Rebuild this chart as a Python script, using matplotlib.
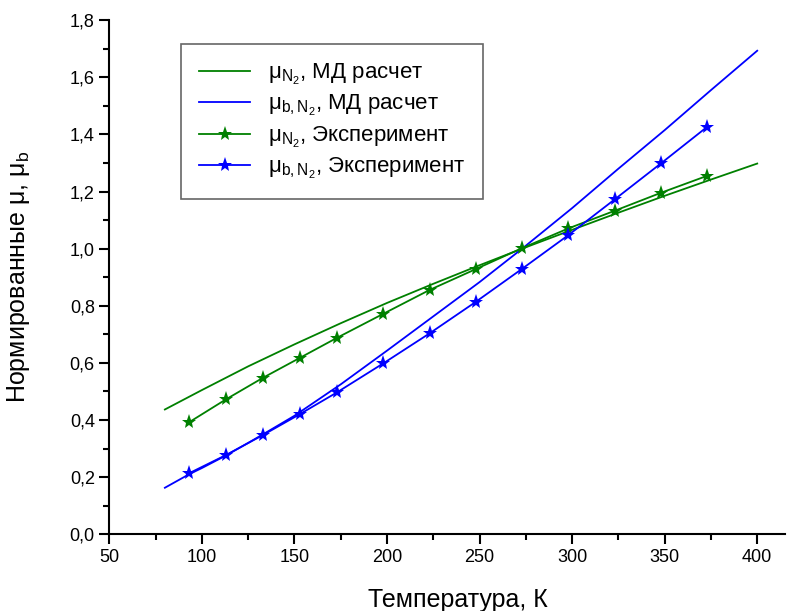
import matplotlib
matplotlib.use("Agg")
import matplotlib.pyplot as plt
from matplotlib.ticker import MultipleLocator, FuncFormatter

plt.rcParams["font.family"] = ["Liberation Sans", "DejaVu Sans"]
plt.rcParams["mathtext.fontset"] = "custom"
plt.rcParams["mathtext.rm"] = "Liberation Sans"
plt.rcParams["mathtext.it"] = "Liberation Sans:italic"

# MD calculation
T_md = [80, 100, 125, 150, 175, 200, 225, 250, 273, 300, 325, 350, 375, 400]
mu_md = [0.437, 0.505, 0.588, 0.665, 0.739, 0.810, 0.877, 0.942, 1.0,
         1.066, 1.126, 1.185, 1.242, 1.298]
T_md_b = [80, 93, 100, 113, 125, 133, 150, 175, 200, 225, 250, 273, 300,
          325, 350, 375, 400]
mub_md = [0.163, 0.21, 0.232, 0.276, 0.32, 0.35, 0.415, 0.525, 0.643, 0.763,
          0.883, 1.0, 1.142, 1.28, 1.415, 1.555, 1.693]

# experiment
T_exp = [93, 113, 133, 153, 173, 198, 223, 248, 273, 298, 323, 348, 373]
mu_exp = [0.392, 0.4725, 0.548, 0.618, 0.688, 0.772, 0.8555, 0.9286, 1.002,
          1.071, 1.1327, 1.1957, 1.2552]
mub_exp = [0.2135, 0.2775, 0.3476, 0.421, 0.497, 0.5985, 0.7035, 0.814,
           0.9296, 1.0476, 1.1725, 1.2986, 1.4267]

green = "#008000"
blue = "#0000ff"

fig = plt.figure(figsize=(8.01, 6.11), dpi=100)
ax = fig.add_axes([0.1365, 0.1255, 0.8435, 0.8415])

ax.plot(T_md, mu_md, color=green, lw=1.3,
        label=r"$\mathregular{\mu_{N_2}}$, МД расчет")
ax.plot(T_md_b, mub_md, color=blue, lw=1.3,
        label=r"$\mathregular{\mu_{b,N_2}}$, МД расчет")
ax.plot(T_exp, mu_exp, color=green, lw=1.3, marker="*", ms=11, mew=0,
        label=r"$\mathregular{\mu_{N_2}}$, Эксперимент")
ax.plot(T_exp, mub_exp, color=blue, lw=1.3, marker="*", ms=11, mew=0,
        label=r"$\mathregular{\mu_{b,N_2}}$, Эксперимент")

ax.set_xlim(50, 415)
ax.set_ylim(0, 1.8)
ax.xaxis.set_major_locator(MultipleLocator(50))
ax.xaxis.set_minor_locator(MultipleLocator(25))
ax.yaxis.set_major_locator(MultipleLocator(0.2))
ax.yaxis.set_minor_locator(MultipleLocator(0.1))
ax.yaxis.set_major_formatter(FuncFormatter(lambda v, p: f"{v:.1f}".replace(".", ",")))

for s in ["top", "right"]:
    ax.spines[s].set_visible(False)
for s in ["left", "bottom"]:
    ax.spines[s].set_linewidth(1.5)
ax.tick_params(which="major", direction="out", length=7, width=1.5, labelsize=13)
ax.tick_params(which="minor", direction="out", length=4, width=1.5)

ax.set_xlabel("Температура, К", fontsize=18)
ax.set_ylabel(r"Нормированные μ, $\mathregular{\mu_b}$", fontsize=18)
ax.xaxis.set_label_coords(0.516, -0.104)
ax.yaxis.set_label_coords(-0.114, 0.5)

leg = ax.legend(loc="upper left", bbox_to_anchor=(0.09, 0.975), fontsize=16,
                frameon=True, fancybox=False, edgecolor="#404040",
                handlelength=2.3, borderpad=0.8, labelspacing=0.28)
leg.get_frame().set_linewidth(1.2)

fig.savefig("out.png", dpi=100)
